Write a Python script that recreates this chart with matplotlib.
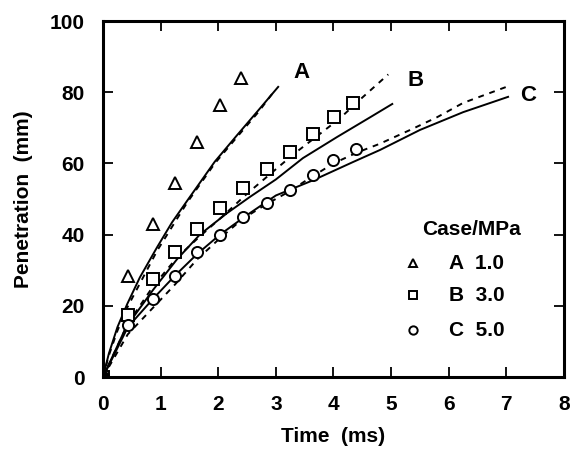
import numpy as np
import matplotlib.pyplot as plt

plt.rcParams['font.family'] = ['Liberation Sans', 'DejaVu Sans']
plt.rcParams['font.weight'] = 'bold'

# measured points (time in ms, penetration in mm)
t_a = [0, 0.43, 0.87, 1.25, 1.63, 2.03, 2.40]
p_a = [0, 28.4, 43.0, 54.5, 66.0, 76.5, 84.0]

t_b = [0, 0.43, 0.87, 1.25, 1.63, 2.03, 2.43, 2.85, 3.25, 3.65, 4.01, 4.33]
p_b = [0, 17.5, 27.6, 35.0, 41.5, 47.5, 53.0, 58.5, 63.2, 68.3, 73.0, 77.0]

t_c = [0, 0.43, 0.87, 1.25, 1.63, 2.03, 2.43, 2.85, 3.25, 3.65, 4.00, 4.39]
p_c = [0, 14.5, 22.0, 28.4, 35.0, 40.0, 45.0, 48.8, 52.5, 56.7, 61.0, 64.0]

# computed curves
ta_sol = [0, 0.1, 0.25, 0.42, 0.64, 0.94, 1.2, 1.46, 1.7, 1.94, 2.33, 2.7, 3.04]
pa_sol = [0, 6.5, 14, 20.5, 28, 36.5, 43.5, 49.5, 55, 60.5, 68, 75, 81.5]
ta_dash = [0, 0.1, 0.25, 0.42, 0.94, 1.46, 1.94, 2.33, 2.7, 2.98]
pa_dash = [0, 6, 13, 19.5, 35.5, 49, 60, 67.5, 74.5, 80.5]

tb_sol = [0, 0.4, 0.87, 1.28, 1.68, 2.15, 2.55, 3.0, 3.47, 4.06, 4.64, 5.02]
pb_sol = [0, 14, 24.5, 33, 40, 46, 50.6, 55.5, 61.5, 67.4, 73, 76.7]
tb_dash = [0, 0.43, 0.87, 1.28, 1.68, 2.1, 2.5, 2.9, 3.3, 3.7, 4.1, 4.5, 4.95]
pb_dash = [0, 15, 25.5, 33.5, 39.5, 45.5, 51.5, 57, 62.5, 67.5, 72.5, 78.5, 85]

tc_sol = [0, 0.43, 0.87, 1.25, 1.63, 2.03, 2.5, 3.0, 3.65, 4.34, 4.81, 5.5, 6.25, 7.03]
pc_sol = [0, 14, 22, 28.5, 34.5, 40, 45.5, 51, 55.3, 60.4, 63.8, 69.4, 74.4, 78.7]
tc_dash = [0, 0.43, 0.87, 1.25, 1.63, 2.03, 2.43, 2.83, 3.22, 3.6, 4.0, 4.4, 4.8, 5.33, 5.8, 6.25, 7.0]
pc_dash = [0, 12, 19.5, 26, 33, 39, 44.5, 48.5, 52, 56, 60, 63, 65.5, 69.4, 73, 77, 81.5]

FS = 15

fig = plt.figure(figsize=(5.81, 4.57), dpi=100)
ax = fig.add_axes([0.1773, 0.175, 0.7934, 0.779])

LW = 1.4
ax.plot(ta_sol, pa_sol, color='black', lw=LW)
ax.plot(ta_dash, pa_dash, color='black', lw=LW, ls=(0, (3, 3)))
ax.plot(tb_sol, pb_sol, color='black', lw=LW)
ax.plot(tb_dash, pb_dash, color='black', lw=LW, ls=(0, (3, 3)))
ax.plot(tc_sol, pc_sol, color='black', lw=LW)
ax.plot(tc_dash, pc_dash, color='black', lw=LW, ls=(0, (3, 3)))

mk = dict(ls='none', mfc='white', mec='black', mew=1.4, ms=8)
ax.plot(t_a, p_a, marker='^', **mk)
ax.plot(t_b, p_b, marker='s', **mk)
ax.plot(t_c, p_c, marker='o', **mk)
ax.plot([0], [0], marker='s', ls='none', color='black', ms=6)

ax.text(3.45, 85.4, 'A', fontsize=FS + 1, fontweight='bold', ha='center', va='center')
ax.text(5.42, 83.4, 'B', fontsize=FS + 1, fontweight='bold', ha='center', va='center')
ax.text(7.38, 79.2, 'C', fontsize=FS + 1, fontweight='bold', ha='center', va='center')

# legend drawn as text rows
ax.text(6.4, 41.5, 'Case/MPa', fontsize=FS, fontweight='bold', ha='center', va='center')
leg_marks = ['^', 's', 'o']
leg_text = ['A  1.0', 'B  3.0', 'C  5.0']
leg_y = [32, 23, 13.2]
for m, s, yy in zip(leg_marks, leg_text, leg_y):
    ax.plot([5.38], [yy], marker=m, ls='none', mfc='white', mec='black', mew=1.4, ms=6)
    ax.text(6.0, yy, s, fontsize=FS, fontweight='bold', ha='left', va='center')

ax.set_xlim(0, 8)
ax.set_ylim(0, 100)
ax.set_xticks(range(0, 9))
ax.set_yticks(range(0, 101, 20))
ax.tick_params(direction='in', length=7, width=1.3, top=True, right=True,
               labelsize=FS, pad=13)
for sp in ax.spines.values():
    sp.set_linewidth(2.2)
for lab in ax.get_xticklabels() + ax.get_yticklabels():
    lab.set_fontweight('bold')

ax.set_xlabel('Time  (ms)', fontsize=FS, fontweight='bold', labelpad=9)
ax.set_ylabel('Penetration  (mm)', fontsize=FS, fontweight='bold', labelpad=12)

fig.savefig('out.png', dpi=100)
